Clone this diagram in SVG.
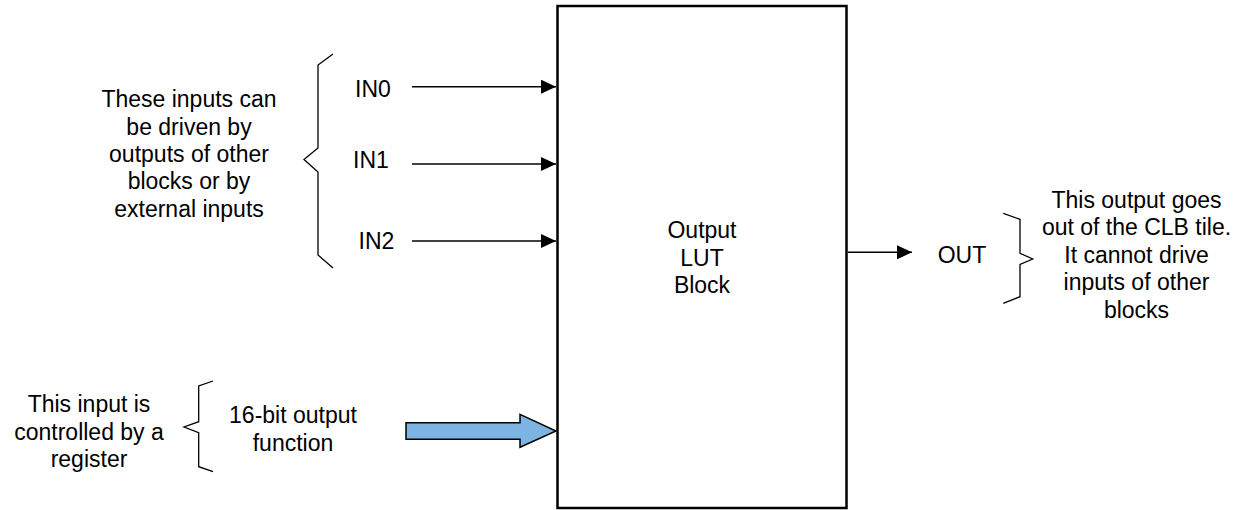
<svg xmlns="http://www.w3.org/2000/svg" width="1252" height="510" viewBox="0 0 1252 510">
<style>
text{font-family:"Liberation Sans",Arial,Helvetica,sans-serif;font-size:23px;fill:#000;text-anchor:middle}
.ln{stroke:#000;stroke-width:1.5;fill:none}
.br{stroke:#000;stroke-width:1.3;fill:none;stroke-linejoin:miter}
</style>
<defs>
<marker id="ah" markerUnits="userSpaceOnUse" markerWidth="15" markerHeight="14" refX="15" refY="7" orient="auto" viewBox="0 0 15 14">
<path d="M0,0 L15,7 L0,14 z" fill="#000"/>
</marker>
</defs>
<rect width="1252" height="510" fill="#fff"/>
<g id="lut-block">
<rect x="557.5" y="6" width="289" height="502" fill="#fff" stroke="#000" stroke-width="2.5"/>
<text x="702" y="238">Output</text>
<text x="702" y="265.5">LUT</text>
<text x="702" y="293">Block</text>
</g>
<g id="in-labels">
<text x="373" y="96.7">IN0</text>
<text x="371" y="167.7">IN1</text>
<text x="376.5" y="249.3">IN2</text>
<text x="962" y="262.7">OUT</text>
<text x="293" y="423.3">16-bit output</text>
<text x="293" y="450.7">function</text>
</g>
<g id="note-inputs">
<path class="br" d="M333,54 L318,65 L318,148 L304,159.5 L318,172 L318,255 L333,268"/>
<text x="189" y="107.3">These inputs can</text>
<text x="189" y="134.5">be driven by</text>
<text x="189" y="161.8">outputs of other</text>
<text x="189" y="189">blocks or by</text>
<text x="189" y="216.5">external inputs</text>
</g>
<g id="note-register">
<path class="br" d="M213,381 L198.7,386 L198.7,421.7 L184,427 L198.7,432.7 L198.7,466.7 L213,471.7"/>
<text x="89" y="412.3">This input is</text>
<text x="89" y="439.8">controlled by a</text>
<text x="89" y="467">register</text>
</g>
<g id="note-output">
<path class="br" d="M1003.3,213.3 L1020,219.3 L1020,253.3 L1032.7,259 L1020,264.5 L1020,296.7 L1003.3,303.3"/>
<text x="1136.5" y="207.5">This output goes</text>
<text x="1136.5" y="235">out of the CLB tile.</text>
<text x="1136.5" y="262.5">It cannot drive</text>
<text x="1136.5" y="290">inputs of other</text>
<text x="1136.5" y="317.5">blocks</text>
</g>
<g id="connectors">
<line class="ln" x1="412" y1="86.7" x2="556" y2="86.7" marker-end="url(#ah)"/>
<line class="ln" x1="412" y1="164" x2="556" y2="164" marker-end="url(#ah)"/>
<line class="ln" x1="412" y1="241" x2="556" y2="241" marker-end="url(#ah)"/>
<line class="ln" x1="848" y1="252.3" x2="912" y2="252.3" marker-end="url(#ah)"/>
<path d="M406,422.7 L520,422.7 L520,414.3 L556,431 L520,447.3 L520,439.3 L406,439.3 z" fill="#7EB4E2" stroke="#000" stroke-width="1.5" stroke-linejoin="miter"/>
</g>
</svg>
